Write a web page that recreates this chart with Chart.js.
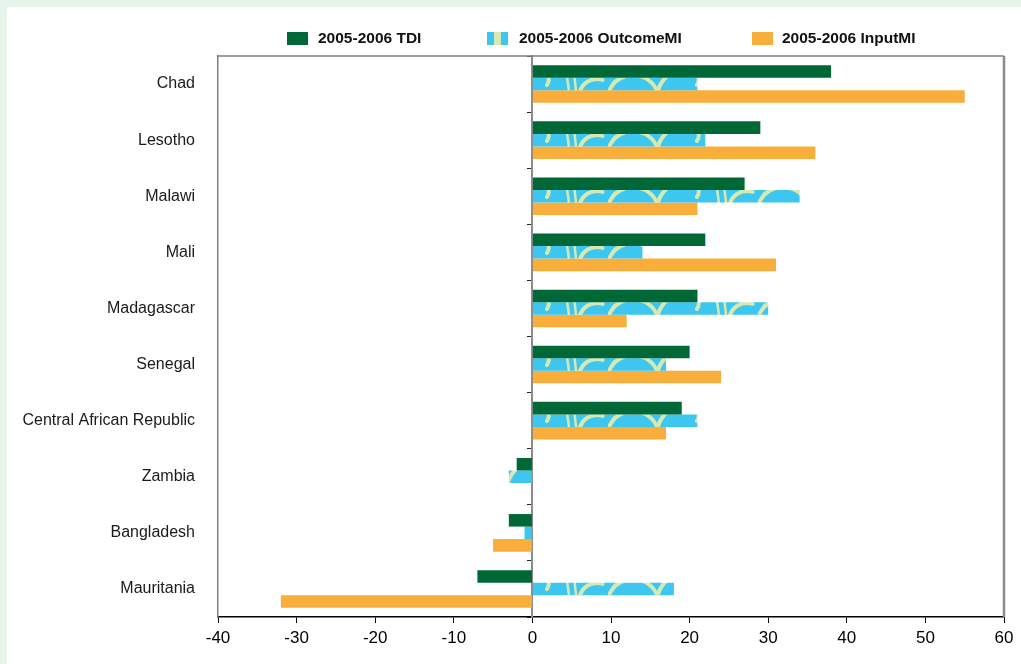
<!DOCTYPE html>
<html>
<head>
<meta charset="utf-8">
<script src="https://cdn.jsdelivr.net/npm/chart.js@4.4.1/dist/chart.umd.min.js"></script>
<style>
  html, body { margin: 0; padding: 0; }
  body { width: 1021px; height: 664px; background: #e8f3ec; position: relative; overflow: hidden; font-family: "Liberation Sans", Arial, sans-serif; }
  #panel { position: absolute; left: 7px; top: 7px; width: 1014px; height: 657px; background: #ffffff; }
  #wrap { position: absolute; left: 0; top: 0; width: 1014px; height: 657px; }
  #c { display: block; }
  .lg-box { position: absolute; width: 21px; height: 13px; top: 25px; }
  .lg-txt { position: absolute; top: 22px; font: bold 15.5px "Liberation Sans", Arial, sans-serif; color: #111; line-height: 18px; white-space: nowrap; }
</style>
</head>
<body>
<div id="panel">
  <div id="wrap"><canvas id="c" width="1014" height="657"></canvas></div>
  <div id="legend"></div>
</div>
<script>
const categories = ['Chad', 'Lesotho', 'Malawi', 'Mali', 'Madagascar', 'Senegal', 'Central African Republic', 'Zambia', 'Bangladesh', 'Mauritania'];
const seriesNames = ['2005-2006 TDI', '2005-2006 OutcomeMI', '2005-2006 InputMI'];
const tdiValues = [38, 29, 27, 22, 21, 20, 19, -2, -3, -7];
const outcomeValues = [21, 22, 34, 14, 30, 17, 21, -3, -1, 18];
const inputValues = [55, 36, 21, 31, 12, 24, 17, 0, -5, -32];
const xTickMin = -40;
const xTickMax = 60;
const xTickStep = 10;

const GREEN = '#006837';
const BLUE = '#3cc6f0';
const PALE = '#d6e9b3';
const ORANGE = '#f9ae3b';

// patterned fill for the OutcomeMI series
function makePattern() {
  const t = document.createElement('canvas');
  t.width = 150; t.height = 28;
  const g = t.getContext('2d');
  g.fillStyle = BLUE; g.fillRect(0, 0, t.width, t.height);
  g.strokeStyle = PALE; g.lineWidth = 4; g.lineCap = 'round';
  g.beginPath(); g.arc(26, 38, 26, Math.PI * 1.15, Math.PI * 1.85); g.stroke();
  g.beginPath(); g.moveTo(50, 30); g.quadraticCurveTo(58, 4, 82, 9); g.quadraticCurveTo(96, 12, 90, 22); g.stroke();
  g.lineWidth = 2.5;
  g.beginPath(); g.moveTo(108, 0); g.lineTo(112, 28); g.stroke();
  g.beginPath(); g.moveTo(116, 0); g.lineTo(119, 28); g.stroke();
  g.lineWidth = 4;
  g.beginPath(); g.arc(140, 34, 18, Math.PI * 1.05, Math.PI * 1.6); g.stroke();
  return g.createPattern(t, 'repeat');
}
const outcomePattern = makePattern();

// HTML legend
const legendDefs = [
  { name: seriesNames[0], box: 280, txt: 311, bg: GREEN },
  { name: seriesNames[1], box: 480, txt: 512, bg: 'linear-gradient(90deg,' + BLUE + ' 0 33%,' + PALE + ' 33% 67%,' + BLUE + ' 67%)' },
  { name: seriesNames[2], box: 745, txt: 775, bg: ORANGE }
];
const lg = document.getElementById('legend');
legendDefs.forEach(d => {
  const b = document.createElement('div');
  b.className = 'lg-box'; b.style.left = d.box + 'px'; b.style.background = d.bg;
  const s = document.createElement('div');
  s.className = 'lg-txt'; s.style.left = d.txt + 'px'; s.textContent = d.name;
  lg.appendChild(b); lg.appendChild(s);
});

const framePlugin = {
  id: 'frame',
  afterDatasetsDraw(chart) {
    const { ctx, chartArea: a } = chart;
    ctx.save();
    ctx.strokeStyle = '#7f7f7f';
    ctx.lineWidth = 1.5;
    ctx.beginPath(); ctx.moveTo(a.left, a.top); ctx.lineTo(a.right, a.top); ctx.stroke();
    ctx.lineWidth = 2.5; ctx.strokeStyle = '#8a8a8a';
    ctx.beginPath(); ctx.moveTo(a.right, a.top); ctx.lineTo(a.right, a.bottom); ctx.stroke();
    ctx.restore();
  }
};

const FONT = '"Liberation Sans", Arial, sans-serif';

new Chart(document.getElementById('c'), {
  type: 'bar',
  data: {
    labels: categories,
    datasets: [
      { label: seriesNames[0], data: tdiValues, backgroundColor: GREEN },
      { label: seriesNames[1], data: outcomeValues, backgroundColor: outcomePattern },
      { label: seriesNames[2], data: inputValues, backgroundColor: ORANGE }
    ]
  },
  options: {
    indexAxis: 'y',
    responsive: false,
    maintainAspectRatio: false,
    animation: false,
    events: [],
    datasets: { bar: { categoryPercentage: 0.67, barPercentage: 1.0, borderWidth: 0 } },
    layout: { padding: { top: 49, left: 5, right: 17, bottom: 7 } },
    plugins: { legend: { display: false }, tooltip: { enabled: false } },
    scales: {
      x: {
        type: 'linear',
        min: xTickMin, max: xTickMax,
        afterFit(s) { s.height = 40; },
        ticks: { stepSize: xTickStep, color: '#000', padding: 5, maxRotation: 0, autoSkip: false, font: { family: FONT, size: 17 } },
        grid: { drawOnChartArea: false, color: '#000', tickLength: 6, lineWidth: 1 },
        border: { color: '#000', width: 1.5 }
      },
      y: {
        type: 'category',
        position: 'left',
        afterFit(s) { s.width = 206; },
        ticks: { color: '#1a1a1a', padding: 15, autoSkip: false, font: { family: FONT, size: 16 } },
        grid: { display: false },
        border: { display: true, color: '#7f7f7f', width: 1.5 }
      },
      y2: {
        type: 'category',
        axis: 'y',
        position: { x: 0 },
        offset: true,
        z: 1,
        ticks: { display: false },
        grid: { drawOnChartArea: false, offset: true, tickLength: 4, color: '#222', lineWidth: 1 },
        border: { display: true, color: '#8c8c8c', width: 2 }
      }
    }
  },
  plugins: [framePlugin]
});
</script>
</body>
</html>
